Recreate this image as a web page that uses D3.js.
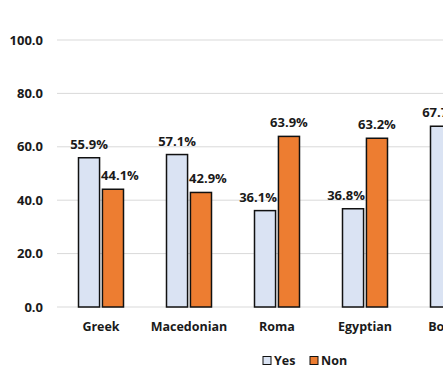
<!DOCTYPE html>
<html>
<head>
<meta charset="utf-8">
<script src="https://cdn.jsdelivr.net/npm/d3@7"></script>
<style>
  html, body { margin: 0; padding: 0; background: #fff; overflow: hidden; }
  text { font-family: "Open Sans", "Liberation Sans", sans-serif; font-weight: bold; fill: #1a1a1a; }
</style>
</head>
<body>
<svg id="chart" width="443" height="370"></svg>
<script>
const categories = ["Greek", "Macedonian", "Roma", "Egyptian", "Bosniak"];
const yesValues = [55.9, 57.1, 36.1, 36.8, 67.7];
const nonValues = [44.1, 42.9, 63.9, 63.2, 32.3];
const seriesNames = ["Yes", "Non"];
const yTicks = [0, 20, 40, 60, 80, 100];

const colors = { Yes: "#dae3f3", Non: "#ed7d31" };

const svg = d3.select("#chart");
const plotLeft = 57, plotTop = 40, plotBottom = 307;
const step = 88;

const x = d3.scaleBand()
  .domain(categories)
  .range([plotLeft, plotLeft + step * categories.length])
  .paddingInner(0)
  .paddingOuter(0);

const y = d3.scaleLinear().domain([0, 100]).range([plotBottom, plotTop]);

// gridlines
svg.append("g")
  .selectAll("line")
  .data(yTicks)
  .enter()
  .append("line")
  .attr("x1", plotLeft)
  .attr("x2", 443)
  .attr("y1", d => y(d))
  .attr("y2", d => y(d))
  .attr("stroke", "#d9d9d9")
  .attr("stroke-width", 1);

// y tick labels
svg.append("g")
  .selectAll("text")
  .data(yTicks)
  .enter()
  .append("text")
  .attr("x", 43)
  .attr("y", d => y(d))
  .attr("dy", "0.35em")
  .attr("text-anchor", "end")
  .attr("font-size", 13)
  .text(d => d.toFixed(1));

const x1 = d3.scaleBand()
  .domain(seriesNames)
  .range([x.bandwidth() / 2 - 22.5, x.bandwidth() / 2 + 22.5])
  .paddingInner(0.12);

const rows = categories.map((c, i) => ({ cat: c, Yes: yesValues[i], Non: nonValues[i] }));

const groups = svg.append("g")
  .selectAll("g")
  .data(rows)
  .enter()
  .append("g")
  .attr("transform", d => "translate(" + x(d.cat) + ",0)");

groups.selectAll("rect")
  .data(d => seriesNames.map(s => ({ s: s, v: d[s] })))
  .enter()
  .append("rect")
  .attr("x", d => x1(d.s))
  .attr("width", x1.bandwidth())
  .attr("y", d => y(d.v))
  .attr("height", d => plotBottom - y(d.v))
  .attr("fill", d => colors[d.s])
  .attr("stroke", "#111")
  .attr("stroke-width", 1.5);

// the lower label of a pair is nudged outward, away from the taller bar
groups.selectAll("text.val")
  .data(d => seriesNames.map(s => ({ s: s, v: d[s], other: d[s === "Yes" ? "Non" : "Yes"] })))
  .enter()
  .append("text")
  .attr("class", "val")
  .attr("x", d => {
    let cx = x1(d.s) + x1.bandwidth() / 2;
    if (d.v < d.other) cx += d.s === "Yes" ? -7 : 7;
    return cx;
  })
  .attr("y", d => y(d.v) - 9)
  .attr("text-anchor", "middle")
  .attr("font-size", 13)
  .text(d => d.v.toFixed(1) + "%");

// category labels
svg.append("g")
  .selectAll("text")
  .data(categories)
  .enter()
  .append("text")
  .attr("x", d => x(d) + x.bandwidth() / 2)
  .attr("y", 331)
  .attr("text-anchor", "middle")
  .attr("font-size", 12.5)
  .text(d => d);

// legend
const legend = svg.append("g").attr("transform", "translate(263,361)");
const items = legend.selectAll("g")
  .data(seriesNames)
  .enter()
  .append("g")
  .attr("transform", (d, i) => "translate(" + (i * 47) + ",0)");
items.append("rect")
  .attr("x", 0).attr("y", -4.5)
  .attr("width", 8).attr("height", 8)
  .attr("fill", d => colors[d])
  .attr("stroke", "#111")
  .attr("stroke-width", 1);
items.append("text")
  .attr("x", 11)
  .attr("y", 0)
  .attr("dy", "0.35em")
  .attr("font-size", 12.5)
  .text(d => d);
</script>
</body>
</html>
